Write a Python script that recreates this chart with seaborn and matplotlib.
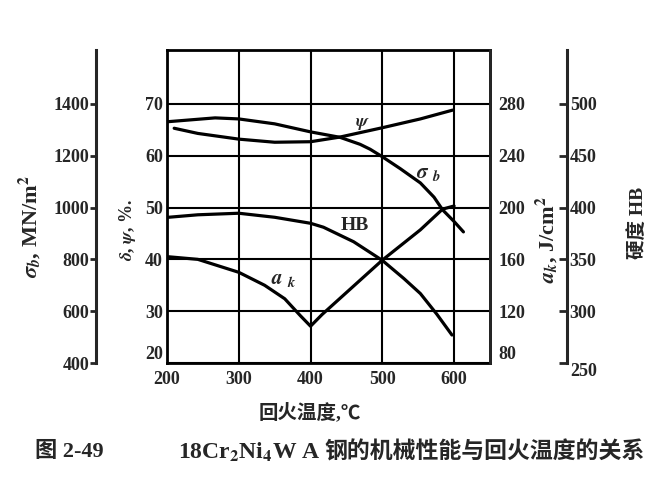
import numpy as np
import pandas as pd
import matplotlib
matplotlib.use('Agg')
import matplotlib.pyplot as plt
import seaborn as sns

# values
temp_sigma = [200, 267, 300, 350, 400, 441, 469, 483, 500, 525, 553, 572, 584, 600, 613]
sigma_b = [1331, 1346, 1342, 1323, 1292, 1271, 1244, 1225, 1196, 1150, 1095, 1040, 991, 946, 906]

temp_psi = [210, 243, 300, 350, 400, 441, 500, 553, 598]
psi = [65.3, 64.3, 63.2, 62.6, 62.7, 63.6, 65.4, 67.1, 68.8]

temp_hb = [202, 243, 300, 350, 400, 418, 460, 500, 530, 553, 576, 597]
hb = [390.6, 393, 394.5, 390.6, 384.8, 381, 367, 349, 331.5, 317, 297, 277]

temp_ak = [202, 243, 300, 336, 364, 386, 400, 416, 500, 553, 584, 600]
ak = [162, 160, 150, 140, 129.6, 116.4, 108.4, 117.4, 159.4, 182.8, 198.8, 201.2]

x_ticks = [200, 300, 400, 500, 600]
pct_ticks = [20, 30, 40, 50, 60, 70]
sigma_ticks = [400, 600, 800, 1000, 1200, 1400]
ak_ticks = [80, 120, 160, 200, 240, 280]
hb_ticks = [250, 300, 350, 400, 450, 500]

sns.set_style('ticks')
plt.rcParams['font.family'] = ['Liberation Serif', 'Noto Sans CJK SC']
plt.rcParams['font.weight'] = 'bold'
plt.rcParams['mathtext.fontset'] = 'stix'

W, H = 672, 494
fig = plt.figure(figsize=(W / 100, H / 100), dpi=100)
L, R, T, B = 167, 490, 50, 363
ax = fig.add_axes([L / W, 1 - B / H, (R - L) / W, (B - T) / H])

top = 80.4
tick_fs = 13
ax.set_xlim(200, 650)
ax.set_ylim(20, top)
ax.set_xticks(x_ticks)
ax.set_yticks(pct_ticks)
ax.grid(True, color='black', lw=1.5)
ax.set_axisbelow(True)
ax.tick_params(length=0, labelsize=tick_fs, pad=3)
ax.tick_params(axis='x', pad=6)
for s in ax.spines.values():
    s.set_linewidth(2)
    s.set_color('black')
ax.get_yticklabels()[0].set_verticalalignment('bottom')

lw = 2.3
# sigma_b axis (far left)
ax_s = ax.twinx()
ax_s.set_ylim(400, 400 + (top - 20) * 20)
ax_s.spines['left'].set_visible(True)
ax_s.spines['left'].set_position(('axes', (96 - L) / (R - L)))
ax_s.spines['left'].set_linewidth(2.2)
ax_s.spines['right'].set_visible(False)
ax_s.yaxis.set_ticks_position('left')
ax_s.yaxis.set_label_position('left')
ax_s.set_yticks(sigma_ticks)
ax_s.tick_params(axis='y', direction='out', length=4, width=2, labelsize=tick_fs, pad=1)
sns.lineplot(x=temp_sigma, y=sigma_b, ax=ax_s, color='black', lw=lw, sort=False, estimator=None)
ax_s.set_ylabel('')

# delta, psi on main axis
sns.lineplot(x=temp_psi, y=psi, ax=ax, color='black', lw=lw, sort=False, estimator=None)

# a_k axis (right spine)
ax_a = ax.twinx()
ax_a.set_ylim(80, 80 + (top - 20) * 4)
ax_a.set_yticks(ak_ticks)
ax_a.spines['right'].set_linewidth(2)
ax_a.tick_params(axis='y', length=0, labelsize=tick_fs, pad=6)
sns.lineplot(x=temp_ak, y=ak, ax=ax_a, color='black', lw=lw, sort=False, estimator=None)
ax_a.set_ylabel('')
ax_a.get_yticklabels()[0].set_verticalalignment('bottom')

# HB axis (far right)
ax_h = ax.twinx()
ax_h.set_ylim(250, 250 + (top - 20) * 5)
ax_h.spines['right'].set_position(('axes', (567 - L) / (R - L)))
ax_h.spines['right'].set_linewidth(2.2)
ax_h.set_yticks(hb_ticks)
ax_h.tick_params(axis='y', direction='in', length=6, width=2, labelsize=tick_fs, pad=2)
sns.lineplot(x=temp_hb, y=hb, ax=ax_h, color='black', lw=lw, sort=False, estimator=None)
ax_h.set_ylabel('')
ax_h.get_yticklabels()[0].set_verticalalignment('top')

for a in (ax_a, ax_h):
    a.spines['left'].set_visible(False)
for a in (ax_s, ax_a, ax_h):
    a.spines['bottom'].set_visible(False)
    a.spines['top'].set_visible(False)


def px(x, y):
    return x / W, 1 - y / H


# curve labels
fig.text(*px(362, 123), r'$\psi$', fontsize=13, ha='center', va='center')
fig.text(*px(428, 173), r'$\sigma$ $_b$', fontsize=15, ha='center', va='center')
fig.text(*px(355, 226), 'HB', fontsize=14, ha='center', va='center')
fig.text(*px(284, 279), r'$a$ $_k$', fontsize=15, ha='center', va='center')

# axis titles
fig.text(*px(30, 227), r'$\sigma_b$, MN/m$^2$', fontsize=16, rotation=90, ha='center', va='center')
fig.text(*px(128, 230), r'$\delta$, $\psi$, %.', fontsize=13, rotation=90, ha='center', va='center')
fig.text(*px(547, 240), r'$a_k$, J/cm$^2$', fontsize=16, rotation=90, ha='center', va='center')
fig.text(*px(638, 223), '硬度 HB', fontsize=14, rotation=90, ha='center', va='center')
fig.text(*px(310, 412), '回火温度,℃', fontsize=14, ha='center', va='center')

# caption
fig.text(*px(35, 452), '图 2-49', fontsize=16, ha='left', va='center')
fig.text(*px(178, 452), '18Cr$_2$Ni$_4$W A', fontsize=17, ha='left', va='center')
fig.text(*px(324, 452), '钢的机械性能与回火温度的关系', fontsize=16.5, ha='left', va='center',
         family=['Noto Sans CJK SC', 'DejaVu Sans'])

fig.savefig('out.png', dpi=100)
